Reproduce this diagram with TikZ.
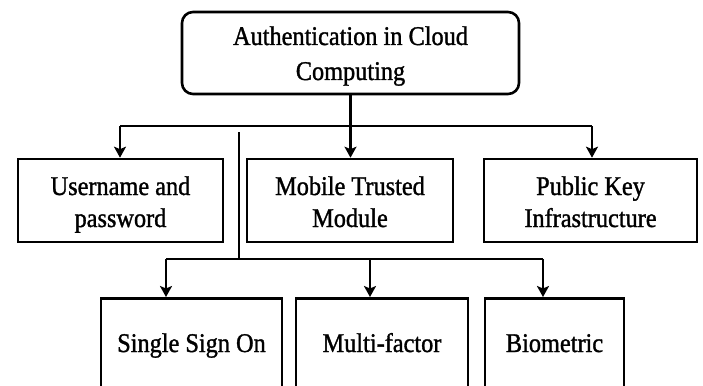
\documentclass[tikz,border=0pt]{standalone}
\usepackage{fontspec}
\setmainfont{Liberation Serif}[FakeStretch=0.9, FakeBold=1.2]
\usetikzlibrary{arrows.meta}
\begin{document}
\begin{tikzpicture}[x=1pt,y=-1pt,
  boxstyle/.style={draw=black, line width=2.6pt, fill=white, inner sep=0pt},
  txt/.style={inner sep=0pt, anchor=base, font=\fontsize{27}{33}\selectfont},
  conn/.style={draw=black, line width=2.3pt},
  arr/.style={conn, -{Stealth[length=11pt,width=12pt,inset=2.5pt]}}
]
\useasboundingbox (0,0) rectangle (703,385);
\clip (0,0) rectangle (703,385);
\fill[white] (0,0) rectangle (703,385);

% top
\node[boxstyle, rounded corners=11pt, minimum width=337pt, minimum height=82pt] (top) at (350.5,53) {};
\node[txt] (toptext1) at (350.5,45) {Authentication in Cloud};
\node[txt] (toptext2) at (350.5,80) {Computing};

% row 2
\node[boxstyle, minimum width=205pt, minimum height=83pt] (user) at (120.5,200.5) {};
\node[boxstyle, minimum width=206pt, minimum height=83pt] (mtm) at (350,200.5) {};
\node[boxstyle, minimum width=213pt, minimum height=83pt] (pki) at (590.5,200.5) {};
\node[txt] (usertext1) at (120.5,195) {Username and};
\node[txt] (usertext2) at (120.5,227) {password};
\node[txt] (mtmtext1) at (350,195) {Mobile Trusted};
\node[txt] (mtmtext2) at (350,227) {Module};
\node[txt] (pkitext1) at (590.5,195) {Public Key};
\node[txt] (pkitext2) at (590.5,227) {Infrastructure};

% row 3
\node[boxstyle, minimum width=181pt, minimum height=140pt, anchor=north] (sso) at (191.5,297) {};
\node[boxstyle, minimum width=172pt, minimum height=140pt, anchor=north] (mfa) at (382,297) {};
\node[boxstyle, minimum width=139pt, minimum height=140pt, anchor=north] (bio) at (554.5,297) {};
\node[txt] (ssotext) at (191.5,352) {Single Sign On};
\node[txt] (mfatext) at (382,352) {Multi-factor};
\node[txt] (biotext) at (554.5,352) {Biometric};

% first level connectors
\coordinate (busL) at (120,126);
\coordinate (busR) at (592,126);
\draw[conn] (top.south) -- (top.south |- busL);
\draw[conn] (busL) -- (busR);
\draw[arr] (busL) -- (busL |- user.north);
\draw[arr] (top.south |- busL) -- (top.south |- mtm.north);
\draw[arr] (busR) -- (busR |- pki.north);

% second level connectors
\coordinate (vtop) at (239,132);
\coordinate (vbot) at (239,259);
\coordinate (bus2L) at (166,259);
\coordinate (bus2M) at (370,259);
\coordinate (bus2R) at (543,259);
\draw[conn, line width=2pt] (vtop) -- (vbot);
\draw[conn] (bus2L) -- (bus2R);
\draw[arr] (bus2L) -- (bus2L |- sso.north);
\draw[arr] (bus2M) -- (bus2M |- mfa.north);
\draw[arr] (bus2R) -- (bus2R |- bio.north);
\end{tikzpicture}
\end{document}
